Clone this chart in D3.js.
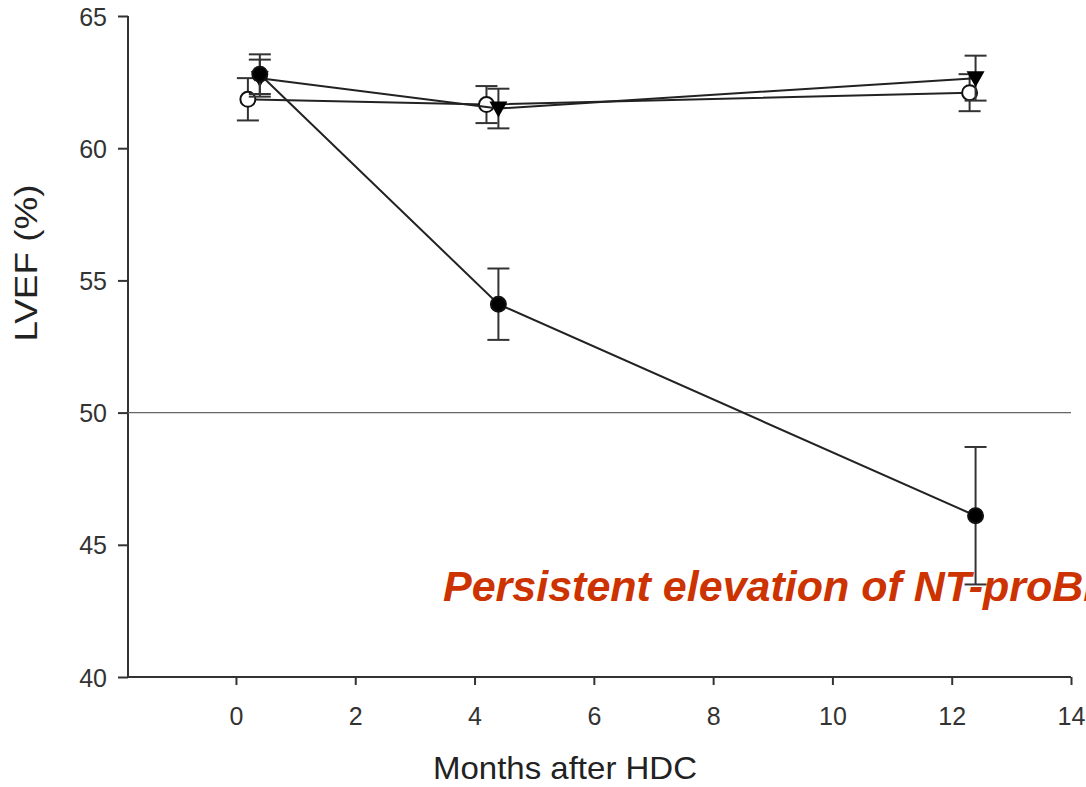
<!DOCTYPE html>
<html>
<head>
<meta charset="utf-8">
<script src="https://cdn.jsdelivr.net/npm/d3@7"></script>
<style>
  body { margin: 0; background: #fff; }
  svg { display: block; }
</style>
</head>
<body>
<div id="chart"></div>
<script>
// values
const months = [0.4, 4.4, 12.4]
const openMonths = [0.2, 4.2, 12.3]
const filledCircle = [62.8, 54.1, 46.1]
const filledCircleErr = [0.75, 1.35, 2.6]
const openCircle = [61.85, 61.65, 62.1]
const openCircleErr = [0.8, 0.7, 0.7]
const triangle = [62.65, 61.5, 62.65]
const triangleErr = [0.7, 0.75, 0.85]
const xTicks = [0, 2, 4, 6, 8, 10, 12, 14]
const yTicks = [40, 45, 50, 55, 60, 65]
const cutoff = 50

const W = 1086, H = 787
const svg = d3.select("#chart").append("svg").attr("width", W).attr("height", H)

const x = d3.scaleLinear().domain([-1.81, 14]).range([128, 1071])
const y = d3.scaleLinear().domain([40, 65]).range([677, 16])

const axisColor = "#333"
const font = "Liberation Sans, Arial, sans-serif"

// y axis
const yAxis = svg.append("g").attr("transform", `translate(${x(-1.81)},0)`)
  .call(d3.axisLeft(y).tickValues(yTicks).tickSize(10).tickPadding(11))
yAxis.select(".domain").attr("stroke", axisColor).attr("stroke-width", 2).attr("d", `M0,${y(40)}V${y(65)}`)
yAxis.selectAll(".tick line").attr("stroke", axisColor).attr("stroke-width", 2)
yAxis.selectAll(".tick text").attr("font-family", font)
  .attr("font-size", 25).attr("fill", "#333").attr("dy", "0.36em")

// x axis
const xAxis = svg.append("g").attr("transform", `translate(0,${y(40)})`)
  .call(d3.axisBottom(x).tickValues(xTicks).tickSize(8).tickPadding(22))
xAxis.select(".domain").attr("stroke", axisColor).attr("stroke-width", 2).attr("d", `M${x(-1.81)},0H${x(14)}`)
xAxis.selectAll(".tick line").attr("stroke", axisColor).attr("stroke-width", 2)
xAxis.selectAll(".tick text").attr("font-family", font)
  .attr("font-size", 25).attr("fill", "#333")

// reference line at 50 %
svg.append("line")
  .attr("x1", x(-1.81)).attr("x2", x(14))
  .attr("y1", y(cutoff)).attr("y2", y(cutoff))
  .attr("stroke", "#666").attr("stroke-width", 1.2)

// axis titles
svg.append("text")
  .attr("transform", `translate(37,263) rotate(-90)`)
  .attr("text-anchor", "middle")
  .attr("font-family", font)
  .attr("font-size", 32).attr("fill", "#222")
  .attr("textLength", 157).attr("lengthAdjust", "spacingAndGlyphs")
  .text("LVEF  (%)")

svg.append("text")
  .attr("x", 565).attr("y", 779)
  .attr("text-anchor", "middle")
  .attr("font-family", font)
  .attr("font-size", 32).attr("fill", "#222")
  .attr("textLength", 264).attr("lengthAdjust", "spacingAndGlyphs")
  .text("Months after HDC")

const series = [
  { xs: openMonths, vals: openCircle, err: openCircleErr, type: "open" },
  { xs: months, vals: triangle, err: triangleErr, type: "tri" },
  { xs: months, vals: filledCircle, err: filledCircleErr, type: "filled" }
]

const line = d3.line().x(d => x(d[0])).y(d => y(d[1]))

series.forEach(s => {
  const pts = s.xs.map((m, i) => [m, s.vals[i], s.err[i]])
  const g = svg.append("g")

  g.append("path").datum(pts).attr("d", line)
    .attr("fill", "none").attr("stroke", "#222").attr("stroke-width", 2)

  // error bars
  const eb = g.selectAll("g.err").data(pts).join("g").attr("class", "err")
  eb.append("line")
    .attr("x1", d => x(d[0])).attr("x2", d => x(d[0]))
    .attr("y1", d => y(d[1] - d[2])).attr("y2", d => y(d[1] + d[2]))
    .attr("stroke", "#333").attr("stroke-width", 2)
  eb.selectAll("line.cap").data(d => [[d[0], d[1] - d[2]], [d[0], d[1] + d[2]]]).join("line")
    .attr("class", "cap")
    .attr("x1", d => x(d[0]) - 11).attr("x2", d => x(d[0]) + 11)
    .attr("y1", d => y(d[1])).attr("y2", d => y(d[1]))
    .attr("stroke", "#333").attr("stroke-width", 2)

  if (s.type === "tri") {
    g.selectAll("path.mk").data(pts).join("path").attr("class", "mk")
      .attr("d", d => {
        const cx = x(d[0]), cy = y(d[1])
        return `M${cx - 9},${cy - 7}L${cx + 9},${cy - 7}L${cx},${cy + 9}Z`
      })
      .attr("fill", "#000")
  } else {
    g.selectAll("circle.mk").data(pts).join("circle").attr("class", "mk")
      .attr("cx", d => x(d[0])).attr("cy", d => y(d[1])).attr("r", 7.5)
      .attr("fill", s.type === "open" ? "#fff" : "#000")
      .attr("stroke", "#111").attr("stroke-width", 2)
  }
})

// annotation, runs off the right edge as in the original
svg.append("text")
  .attr("x", 443).attr("y", 601)
  .attr("font-family", font)
  .attr("font-weight", "bold").attr("font-style", "italic")
  .attr("font-size", 43).attr("fill", "#CC3300")
  .text("Persistent elevation of NT-proBNP")
</script>
</body>
</html>
